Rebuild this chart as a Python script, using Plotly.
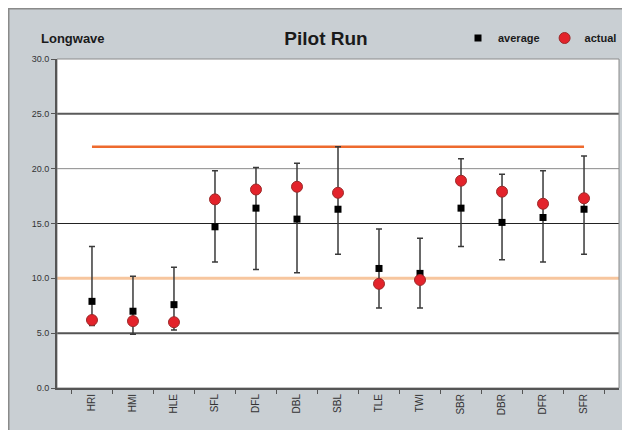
import plotly.graph_objects as go

# sensor locations along the longwave
locations = ['HRI', 'HMI', 'HLE', 'SFL', 'DFL', 'DBL', 'SBL',
             'TLE', 'TWI', 'SBR', 'DBR', 'DFR', 'SFR']

average = [7.9, 7.0, 7.6, 14.7, 16.4, 15.4, 16.3, 10.9, 10.45, 16.4, 15.1, 15.55, 16.3]
actual = [6.2, 6.1, 6.0, 17.2, 18.1, 18.35, 17.8, 9.5, 9.85, 18.9, 17.9, 16.8, 17.3]
range_high = [12.9, 10.2, 11.0, 19.8, 20.1, 20.5, 22.0, 14.5, 13.65, 20.9, 19.5, 19.8, 21.15]
range_low = [5.7, 4.9, 5.3, 11.5, 10.8, 10.5, 12.2, 7.3, 7.3, 12.9, 11.7, 11.5, 12.2]

upper_limit = 22.0
lower_limit = 10.0

y_ticks = [0, 5, 10, 15, 20, 25, 30]

err_plus = [h - a for h, a in zip(range_high, average)]
err_minus = [a - l for a, l in zip(average, range_low)]

PANEL = '#c9cfd3'
ML, MR, MT, MB = 49, 19, 51, 50
PW, PH = 630 - ML - MR, 430 - MT - MB

fig = go.Figure()

# upper limit line spanning first to last location
fig.add_trace(go.Scatter(
    x=locations, y=[upper_limit] * len(locations), mode='lines',
    line=dict(color='#ee6a2e', width=2.5), showlegend=False, hoverinfo='skip'))

fig.add_trace(go.Scatter(
    x=locations, y=average, mode='markers', name='<b>average</b>',
    marker=dict(symbol='square', size=7, color='black'),
    error_y=dict(type='data', symmetric=False, array=err_plus, arrayminus=err_minus,
                 color='#3a3a3a', thickness=1.5, width=3)))

fig.add_trace(go.Scatter(
    x=locations, y=actual, mode='markers', name='<b>actual</b>',
    marker=dict(symbol='circle', size=11, color='#e3232b',
                line=dict(color='#9c2a2a', width=1))))

shapes = []
# panel border
shapes.append(dict(type='rect', xref='paper', yref='paper',
                   x0=-ML / PW, x1=1 + MR / PW, y0=-MB / PH, y1=1 + MT / PH,
                   fillcolor='rgba(0,0,0,0)', line=dict(color='#8a8a8a', width=3),
                   layer='below'))

# horizontal grid lines
grid_style = {5: ('#555555', 2), 15: ('#222222', 1), 20: ('#8a8a8a', 1), 25: ('#5a5a5a', 2)}
for yv, (c, w) in grid_style.items():
    shapes.append(dict(type='line', xref='paper', yref='y', x0=0, x1=1, y0=yv, y1=yv,
                       line=dict(color=c, width=w), layer='below'))

# lower limit band
shapes.append(dict(type='line', xref='paper', yref='y', x0=0, x1=1,
                   y0=lower_limit, y1=lower_limit,
                   line=dict(color='#f7c69e', width=3), layer='below'))

# thin frame on top / right of plot area
shapes.append(dict(type='rect', xref='paper', yref='paper', x0=0, x1=1, y0=0, y1=1,
                   line=dict(color='#8a8a8a', width=1), fillcolor='rgba(0,0,0,0)',
                   layer='below'))

head_y = (PH + MT - 30) / PH

fig.update_layout(
    width=630, height=430,
    margin=dict(l=ML, r=MR, t=MT, b=MB),
    paper_bgcolor=PANEL, plot_bgcolor='white',
    font=dict(family='Arial, Liberation Sans, sans-serif', color='#222'),
    title=dict(text='<b>Pilot Run</b>', x=(318 - ML) / PW, xref='paper', xanchor='center',
               y=1 - 30 / 430, yanchor='middle', font=dict(size=19, color='#1a1a1a')),
    showlegend=True,
    legend=dict(orientation='h', x=(614 - ML) / PW, xanchor='right', y=head_y,
                yanchor='middle', bgcolor='rgba(0,0,0,0)',
                font=dict(size=11, color='#1a1a1a'), itemwidth=30,
                traceorder='normal'),
    annotations=[dict(text='<b>Longwave</b>', xref='paper', yref='paper',
                      x=(31 - ML) / PW, y=head_y, xanchor='left', yanchor='middle',
                      showarrow=False, font=dict(size=13, color='#1a1a1a'))],
    shapes=shapes,
    xaxis=dict(
        showgrid=False, showline=True, linecolor='#555', linewidth=2, mirror=False,
        ticks='outside', tickson='boundaries', ticklen=4, tickcolor='#555',
        tickangle=-90, tickfont=dict(size=10, color='#333'), fixedrange=True,
        automargin=False),
    yaxis=dict(
        range=[0, 30], tickvals=y_ticks, tickformat='.1f', showgrid=False,
        zeroline=False, showline=True, linecolor='#555', linewidth=2,
        ticks='outside', ticklen=4, tickcolor='#555',
        tickfont=dict(size=9, color='#333'), fixedrange=True, automargin=False),
)

fig.write_html('out.html')
